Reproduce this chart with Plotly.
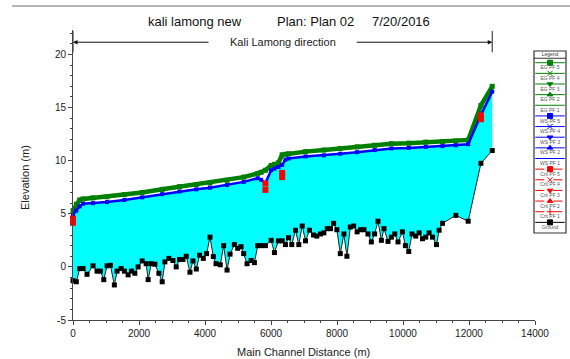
import plotly.graph_objects as go

# ---------------- data ----------------
ground_station = [0, 100, 203, 304, 425, 607, 729, 829, 932, 1033,
                  1133, 1254, 1336, 1458, 1558, 1670, 1771, 1874, 1974, 2096,
                  2217, 2278, 2369, 2481, 2603, 2703, 2785, 2906, 3028, 3128,
                  3228, 3332, 3432, 3544, 3635, 3736, 3836, 3948, 4048, 4152,
                  4252, 4334, 4464, 4565, 4668, 4759, 4890, 4990, 5093, 5172,
                  5275, 5397, 5497, 5597, 5700, 5831, 6004, 6104, 6226, 6338,
                  6438, 6530, 6630, 6742, 6842, 6946, 7046, 7167, 7289, 7389,
                  7501, 7602, 7705, 7805, 7896, 7996, 8100, 8209, 8300, 8403,
                  8504, 8610, 8716, 8817, 8938, 9041, 9141, 9242, 9345, 9424,
                  9545, 9648, 9749, 9849, 9983, 10074, 10174, 10274, 10387, 10487,
                  10590, 10690, 10790, 10894, 11015, 11094, 11197, 11601, 11975, 12361,
                  12704]
ground_elev = [-1.3, -1.4, -0.16, -0.16, -0.7, 0.1, -0.4, -0.4, -1.2, 0.1,
               0.15, -1.7, -0.4, -0.16, -0.4, -0.75, -0.4, -0.6, 0.0, 0.56,
               0.3, -1.2, 0.3, 0.25, -0.6, -1.4, 0.47, 0.8, 0.6, 0.0,
               0.7, 0.7, 1.0, -0.5, 0.56, -0.2, 1.1, 0.8, 1.25, 2.8,
               0.97, 0.3, 0.2, 2.0, -0.3, 1.2, 2.1, 1.75, 1.9, 1.25,
               0.3, 0.6, 0.4, 2.0, 2.0, 2.0, 2.5, 1.35, 2.45, 2.45,
               2.1, 2.75, 2.1, 3.45, 2.1, 3.85, 2.45, 3.45, 3.0, 2.9,
               3.1, 3.2, 3.6, 3.6, 4.1, 3.5, 1.25, 3.1, 1.0, 3.75,
               3.85, 3.3, 3.5, 3.5, 3.1, 2.35, 3.1, 4.3, 2.5, 3.6,
               2.4, 2.8, 3.1, 2.35, 3.3, 2.0, 1.45, 3.1, 2.9, 3.2,
               2.65, 2.8, 3.2, 2.8, 2.1, 3.45, 4.1, 4.85, 4.3, 9.75,
               10.95]

ws_station = [0, 100, 203, 304, 607, 1033, 1558, 2096, 2703, 3228,
              3736, 4152, 4668, 5172, 5597, 5700, 5831, 6004, 6104, 6226,
              6338, 6438, 6530, 7046, 7602, 8100, 8610, 9141, 9648, 10174,
              10690, 11197, 11601, 11975, 12361, 12704]
ws_pf5 = [4.9, 5.3, 5.7, 5.95, 6.0, 6.1, 6.3, 6.55, 6.85, 7.1,
          7.3, 7.45, 7.7, 8.0, 8.35, 8.2, 7.9, 9.1, 9.25, 9.4,
          9.6, 10.1, 10.2, 10.4, 10.5, 10.65, 10.8, 11.0, 11.15, 11.2,
          11.3, 11.37, 11.45, 11.55, 14.3, 16.5]
eg_pf5 = [5.3, 5.9, 6.3, 6.4, 6.5, 6.6, 6.8, 7.0, 7.3, 7.55,
          7.75, 7.9, 8.15, 8.45, 8.8, 8.9, 9.1, 9.55, 9.65, 9.8,
          10.55, 10.6, 10.65, 10.85, 11.0, 11.15, 11.3, 11.45, 11.6, 11.65,
          11.75, 11.8, 11.85, 11.95, 15.2, 17.0]

crit_station = [0, 5831, 6338, 12361]
crit_pf5 = [4.55, 7.85, 8.85, 14.25]
crit_pf1 = [4.15, 7.25, 8.45, 13.9]

x_ticks = [0, 2000, 4000, 6000, 8000, 10000, 12000, 14000]
y_ticks = [-5, 0, 5, 10, 15, 20]

legend_labels = ["EG PF 5", "EG PF 4", "EG PF 3", "EG PF 2", "EG PF 1",
                 "WS PF 5", "WS PF 4", "WS PF 3", "WS PF 2", "WS PF 1",
                 "Crit PF 5", "Crit PF 4", "Crit PF 3", "Crit PF 2", "Crit PF 1",
                 "Ground"]
legend_colors = ["#008000"] * 5 + ["#0000FF"] * 5 + ["#FF0000"] * 5 + ["#000000"]
legend_dash = ["solid"] * 10 + ["dash"] * 5 + ["solid"]
legend_symbols = ["square", "x-thin-open", "triangle-down", "triangle-up", None,
                  "square", "x-thin-open", "triangle-down", "triangle-up", None,
                  "square", "x-thin-open", "triangle-down", "triangle-up", "cross-thin-open",
                  "square"]

title_parts = ["kali lamong new", "Plan: Plan 02", "7/20/2016"]

# ---------------- figure ----------------
GREEN = "#008000"
BLUE = "#0000FF"
RED = "#FF0000"
CYAN = "#00FFFF"
FONT = "Liberation Sans, Arial, sans-serif"

W, H = 570, 359
ML, MR, MT, MB = 73, 2, 30, 39
PW = W - ML - MR
PH = H - MT - MB


def px_x(p):
    return (p - ML) / PW


def px_y(p):
    return (H - MB - p) / PH


fig = go.Figure()

# water fill between ground and water surface
fig.add_trace(go.Scatter(
    x=ground_station + ws_station[::-1],
    y=ground_elev + ws_pf5[::-1],
    fill="toself", fillcolor=CYAN, mode="lines",
    line=dict(width=0, color=CYAN), hoverinfo="skip", showlegend=False))

# ground
fig.add_trace(go.Scatter(
    x=ground_station, y=ground_elev, mode="lines+markers",
    line=dict(color="#202020", width=1),
    marker=dict(symbol="square", size=5, color="#000000"),
    cliponaxis=False, showlegend=False, name="Ground"))

# energy grade
fig.add_trace(go.Scatter(
    x=ws_station, y=eg_pf5, mode="lines+markers",
    line=dict(color=GREEN, width=4.5),
    marker=dict(symbol="square", size=5, color=GREEN),
    cliponaxis=False, showlegend=False, name="EG PF 5"))

# water surface
fig.add_trace(go.Scatter(
    x=ws_station, y=ws_pf5, mode="lines+markers",
    line=dict(color=BLUE, width=2.5),
    marker=dict(symbol="square", size=4, color=BLUE),
    cliponaxis=False, showlegend=False, name="WS PF 5"))

# critical
fig.add_trace(go.Scatter(
    x=crit_station, y=crit_pf1, mode="markers",
    marker=dict(symbol="square", size=6, color=RED),
    cliponaxis=False, showlegend=False, name="Crit PF 1"))
fig.add_trace(go.Scatter(
    x=crit_station, y=crit_pf5, mode="markers",
    marker=dict(symbol="square", size=6, color=RED),
    cliponaxis=False, showlegend=False, name="Crit PF 5"))

# ---------------- legend (drawn on its own small axes) ----------------
for k, lab in enumerate(legend_labels):
    fig.add_trace(go.Scatter(
        x=[0.04, 0.96], y=[k, k], mode="lines",
        line=dict(color=legend_colors[k], width=1, dash=legend_dash[k]),
        xaxis="x2", yaxis="y2", showlegend=False, hoverinfo="skip"))
    if legend_symbols[k] is not None:
        fig.add_trace(go.Scatter(
            x=[0.5], y=[k], mode="markers",
            marker=dict(symbol=legend_symbols[k], size=5, color=legend_colors[k],
                        line=dict(color=legend_colors[k], width=1)),
            xaxis="x2", yaxis="y2", showlegend=False, hoverinfo="skip"))
fig.add_trace(go.Scatter(
    x=[0.5] * len(legend_labels), y=[k + 0.5 for k in range(len(legend_labels))],
    text=legend_labels, mode="text",
    textfont=dict(size=5, color="#555555", family=FONT),
    xaxis="x2", yaxis="y2", showlegend=False, hoverinfo="skip"))
fig.add_trace(go.Scatter(
    x=[0.5], y=[-0.75], text=["Legend"], mode="text",
    textfont=dict(size=5, color="#333333", family=FONT),
    xaxis="x2", yaxis="y2", showlegend=False, hoverinfo="skip"))

shapes = [
    dict(type="rect", xref="x2 domain", yref="y2 domain", x0=0, x1=1, y0=0, y1=1,
         line=dict(color="#333333", width=1.2)),
    dict(type="line", xref="x2 domain", yref="y2", x0=0, x1=1, y0=-0.42, y1=-0.42,
         line=dict(color="#333333", width=1)),
    # window border line at top
    dict(type="line", xref="paper", yref="paper", x0=px_x(12), x1=px_x(572),
         y0=px_y(6), y1=px_y(6), line=dict(color="#9a9a9a", width=1.5)),
]

# direction indicator
x_first = ground_station[0]
x_last = ground_station[-1]
x_mid = (x_first + x_last) / 2
arrow_y = 21.15
for xe in (x_first, x_last):
    shapes.append(dict(type="line", xref="x", yref="y", x0=xe, x1=xe, y0=20.2, y1=22.2,
                       line=dict(color="#222222", width=1)))

annotations = [
    dict(x=x_first, y=arrow_y, ax=x_mid - 2200, ay=arrow_y, xref="x", yref="y",
         axref="x", ayref="y", text="", showarrow=True, arrowhead=2, arrowsize=0.9,
         arrowwidth=1, arrowcolor="#111111"),
    dict(x=x_last, y=arrow_y, ax=x_mid + 2200, ay=arrow_y, xref="x", yref="y",
         axref="x", ayref="y", text="", showarrow=True, arrowhead=2, arrowsize=0.9,
         arrowwidth=1, arrowcolor="#111111"),
    dict(x=x_mid, y=arrow_y, xref="x", yref="y", text="Kali Lamong direction",
         xanchor="center", yanchor="middle",
         showarrow=False, font=dict(size=11, color="#222222", family=FONT)),
    dict(x=px_x(25), y=px_y(178), xref="paper", yref="paper", text="Elevation (m)",
         xanchor="center", yanchor="middle",
         textangle=-90, showarrow=False, font=dict(size=11, color="#222222", family=FONT)),
    dict(x=px_x(303), y=px_y(352), xref="paper", yref="paper",
         xanchor="center", yanchor="middle",
         text="Main Channel Distance (m)", showarrow=False,
         font=dict(size=11, color="#222222", family=FONT)),
]
title_x_px = [195, 315, 401]
for part, px in zip(title_parts, title_x_px):
    annotations.append(dict(x=px_x(px), y=px_y(21), xref="paper", yref="paper",
                            xanchor="center", yanchor="middle",
                            text=part, showarrow=False,
                            font=dict(size=13, color="#111111", family=FONT)))

axis_common = dict(showgrid=False, zeroline=False, showline=True, linecolor="#444444",
                   linewidth=1, ticks="outside", ticklen=4, tickcolor="#444444",
                   automargin=False,
                   tickfont=dict(size=10, color="#222222", family=FONT))

fig.update_layout(
    width=W, height=H, autosize=False,
    margin=dict(l=ML, r=MR, t=MT, b=MB, autoexpand=False),
    paper_bgcolor="white", plot_bgcolor="white",
    showlegend=False,
    font=dict(family=FONT),
    xaxis=dict(domain=[0, px_x(535)], range=[0, 14000],
               tickvals=x_ticks, ticktext=[str(v) for v in x_ticks],
               minor=dict(dtick=500, ticklen=2, ticks="outside", tickcolor="#444444"),
               **axis_common),
    yaxis=dict(domain=[0, 1], range=[-5, 22.3],
               tickvals=y_ticks, ticktext=[str(v) for v in y_ticks],
               minor=dict(dtick=1, ticklen=2, ticks="outside", tickcolor="#444444"),
               **axis_common),
    xaxis2=dict(domain=[px_x(534), px_x(566)], range=[0, 1],
                visible=False, anchor="y2", fixedrange=True),
    yaxis2=dict(domain=[px_y(233), px_y(51)], range=[16.0, -1.1],
                visible=False, anchor="x2", fixedrange=True),
    shapes=shapes,
    annotations=annotations,
)

fig.write_html(
    "out.html",
    config={"responsive": False, "displayModeBar": False},
    post_script="document.body.style.margin='0';document.body.style.overflow='hidden';",
)
